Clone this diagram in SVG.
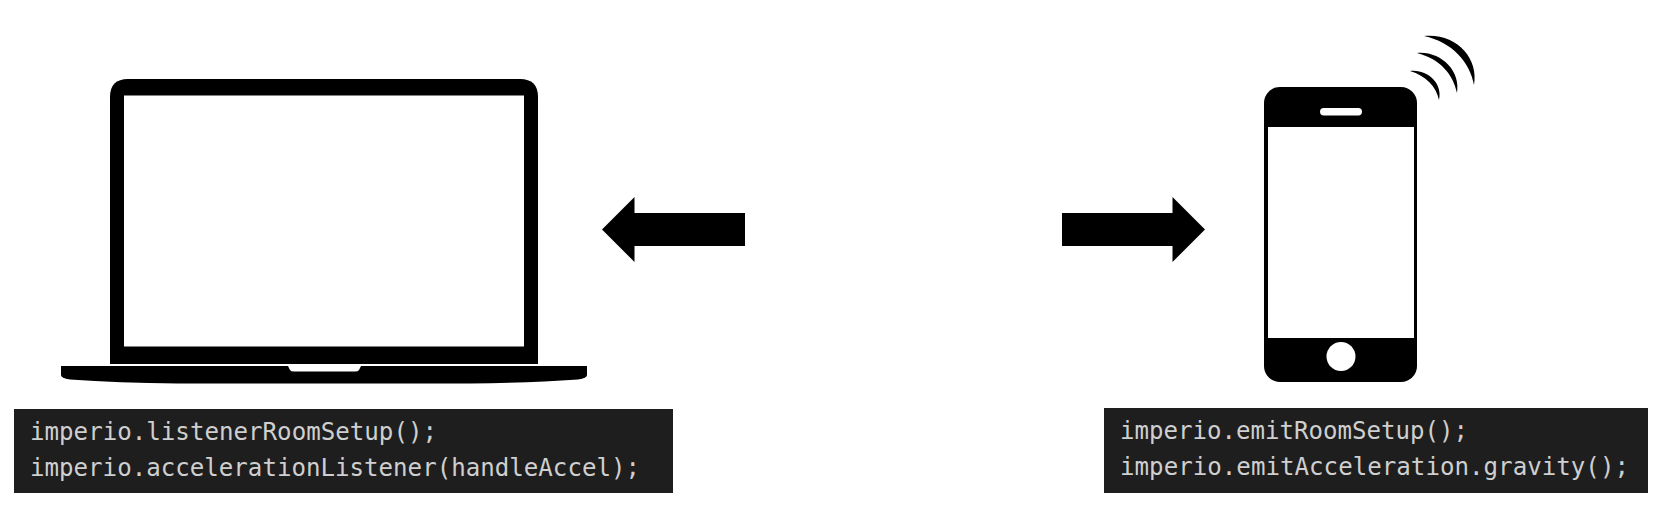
<svg xmlns="http://www.w3.org/2000/svg" width="1659" height="511" viewBox="0 0 1659 511">
<style>
.k{fill:#000}.w{fill:#fff}.box{fill:#1e1e1e}
.code{font-family:"DejaVu Sans Mono","Liberation Mono",monospace;font-size:25px;fill:#cfcfcf}
</style>
<rect width="1659" height="511" fill="#fff"/>
<g id="laptop">
<path class="k" d="M110 364V97Q110 79 128 79H520Q538 79 538 97V364Z"/>
<rect class="w" x="124" y="95.500" width="400" height="251"/>
<path class="k" d="M61 366H587V375Q587 378 578 379.500Q530 383 470 383.500H178Q118 383 70 379.500Q61 378 61 375Z"/>
<path class="w" d="M288 366H361L359 370Q358 371.500 355 371.500H294Q291 371.500 290 370Z"/>
</g>
<g id="laptop-code">
<rect class="box" x="14" y="409" width="659" height="84"/>
<text class="code" x="30" y="440" textLength="407" lengthAdjust="spacingAndGlyphs">imperio.listenerRoomSetup();</text>
<text class="code" x="30" y="476" textLength="610" lengthAdjust="spacingAndGlyphs">imperio.accelerationListener(handleAccel);</text>
</g>
<g id="phone">
<rect class="k" x="1264" y="87" width="153" height="295" rx="16"/>
<rect class="w" x="1268" y="127" width="146" height="211"/>
<rect class="w" x="1320" y="108" width="42" height="7.500" rx="3.700"/>
<circle class="w" cx="1341" cy="356.500" r="14.500"/>
<path class="k" d="M1424 36C1456 33 1479 58 1474 85C1470 62 1452 42 1424 36Z"/>
<path class="k" d="M1417 53C1441 51 1461 71 1457 93C1453 74 1440 59 1417 53Z"/>
<path class="k" d="M1410 71C1428 69 1443 84 1439 100C1436 86 1426 76 1410 71Z"/>
</g>
<g id="phone-code">
<rect class="box" x="1104" y="408" width="544" height="85"/>
<text class="code" x="1120" y="439" textLength="348" lengthAdjust="spacingAndGlyphs">imperio.emitRoomSetup();</text>
<text class="code" x="1120" y="475" textLength="509" lengthAdjust="spacingAndGlyphs">imperio.emitAcceleration.gravity();</text>
</g>
<g id="connectors">
<path class="k" d="M602 229.500L634.500 197V213H745V246H634.500V262Z"/>
<path class="k" d="M1205 229.500L1172.500 197V213H1062V246H1172.500V262Z"/>
</g>
</svg>
